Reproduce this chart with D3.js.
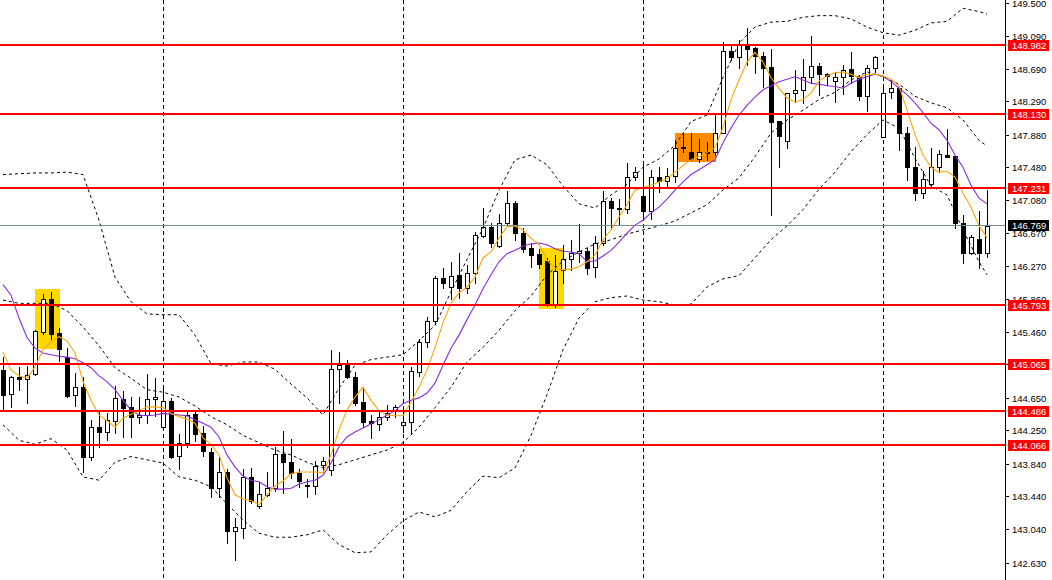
<!DOCTYPE html>
<html><head><meta charset="utf-8">
<script src="https://cdn.jsdelivr.net/npm/d3@7"></script>
<style>body{margin:0;background:#fff;} svg{display:block;}</style>
</head><body><svg id="c" width="1052" height="580"></svg>
<script>
// ---- DATA (prices) ----
const opens = [144.992,144.698,144.906,144.882,144.943,145.458,145.863,145.446,145.152,144.685,
144.783,143.925,144.293,144.231,144.366,144.636,144.538,144.415,144.440,144.636,
144.293,144.612,143.937,144.096,144.452,144.219,143.986,143.544,143.741,143.017,
143.053,143.679,143.323,143.458,143.544,143.961,143.863,143.728,143.569,143.569,
143.826,143.765,145.004,145.066,144.906,144.599,144.366,144.330,144.415,144.489,
144.317,144.354,144.968,145.336,145.593,146.121,146.011,146.158,145.998,146.182,
146.636,146.747,146.514,146.796,147.041,146.673,146.489,146.415,146.330,145.802,
146.219,146.354,146.428,146.452,146.256,146.550,147.066,146.980,146.968,147.360,
147.127,146.943,147.360,147.311,147.372,147.728,147.667,147.581,147.655,147.667,
147.900,148.906,148.833,148.992,148.943,148.845,148.710,148.047,147.802,148.391,
148.428,148.587,148.722,148.624,148.538,148.587,148.685,148.587,148.354,148.698,
147.851,148.403,148.452,147.900,147.483,147.164,147.274,147.483,147.630,147.618,
146.796,146.428,146.599,146.428];
const highs = [145.152,144.918,145.029,145.041,145.483,145.925,145.949,145.507,145.262,144.955,
144.906,144.379,144.501,144.464,144.796,144.734,144.661,144.661,144.943,144.894,
144.759,144.649,144.207,144.477,144.489,144.305,144.035,143.925,143.777,143.176,
143.777,143.790,143.618,143.741,144.047,144.244,144.145,143.777,143.655,143.876,
143.925,145.237,145.213,145.115,144.968,144.783,144.440,144.501,144.563,144.563,
144.477,145.029,145.372,145.642,146.145,146.244,146.317,146.428,146.280,146.685,
146.980,146.796,146.906,147.188,147.066,146.734,146.538,146.477,146.366,146.403,
146.526,146.587,146.784,146.489,146.636,147.188,147.103,147.090,147.532,147.483,
147.557,147.446,147.483,147.471,147.814,147.888,147.900,147.826,147.790,148.145,
149.017,148.980,149.041,149.188,148.955,148.894,148.931,148.047,148.391,148.673,
148.808,149.090,148.759,148.636,148.649,148.734,148.894,148.612,148.734,148.845,
148.489,148.550,148.477,147.974,147.728,147.434,147.716,147.691,147.949,147.618,
146.894,146.649,146.943,147.201];
const lows = [144.501,144.538,144.747,144.587,144.931,145.434,145.372,145.102,144.661,144.550,
143.741,143.888,144.047,144.133,144.219,144.170,144.170,144.342,144.342,144.428,
144.280,143.912,143.777,144.047,144.121,143.937,143.434,143.434,142.869,142.661,
142.931,143.360,143.299,143.446,143.507,143.483,143.667,143.557,143.434,143.471,
143.741,143.704,144.587,144.894,144.563,144.293,144.158,144.256,144.379,144.415,
144.231,144.207,144.918,145.274,145.557,145.998,145.863,145.876,145.937,146.060,
146.624,146.501,146.501,146.784,146.587,146.440,146.256,146.244,145.777,145.765,
146.060,146.219,146.317,146.170,146.133,146.526,146.722,146.771,146.918,147.323,
146.869,146.845,147.176,147.238,147.299,147.667,147.569,147.544,147.569,147.630,
147.900,148.796,148.698,148.734,148.636,148.465,146.894,147.483,147.716,148.280,
148.268,148.514,148.366,148.489,148.280,148.379,148.514,148.305,148.170,148.649,
147.851,148.330,147.691,147.323,147.078,147.103,147.225,147.422,147.606,146.734,
146.305,146.415,146.244,146.379];
const closes = [144.685,144.906,144.882,144.931,145.471,145.863,145.434,145.250,144.673,144.783,
143.925,144.293,144.231,144.379,144.649,144.526,144.415,144.440,144.636,144.661,
144.612,143.925,144.096,144.440,144.207,143.998,143.544,143.741,143.017,143.066,
143.679,143.385,143.471,143.544,143.961,143.863,143.728,143.630,143.581,143.814,
143.876,145.004,145.053,144.906,144.587,144.354,144.342,144.415,144.464,144.538,
144.354,144.980,145.336,145.593,146.121,146.060,146.145,145.998,146.182,146.649,
146.747,146.550,146.796,147.041,146.673,146.477,146.403,146.293,145.802,146.207,
146.354,146.428,146.452,146.244,146.550,147.066,146.980,146.968,147.360,147.422,
146.943,147.360,147.311,147.372,147.716,147.710,147.581,147.667,147.667,147.900,
148.906,148.833,148.980,148.931,148.845,148.698,148.035,147.863,148.391,148.428,
148.587,148.722,148.624,148.599,148.587,148.673,148.599,148.354,148.698,148.833,
148.391,148.452,147.900,147.483,147.164,147.336,147.483,147.642,147.606,146.796,
146.428,146.624,146.428,146.759];

// fast (orange) and slow (purple) moving averages, one value per candle
const fastMA = [145.21,144.99,144.92,144.89,145.03,145.24,145.34,145.40,145.35,145.20,
144.85,144.62,144.44,144.37,144.29,144.40,144.45,144.49,144.54,144.54,
144.53,144.46,144.42,144.39,144.34,144.16,144.08,143.95,143.67,143.46,
143.41,143.39,143.34,143.46,143.57,143.63,143.72,143.74,143.74,143.74,
143.73,143.95,144.26,144.50,144.66,144.78,144.62,144.49,144.44,144.43,
144.43,144.60,144.78,144.99,145.27,145.57,145.81,145.94,146.01,146.13,
146.37,146.44,146.61,146.75,146.76,146.71,146.61,146.53,146.34,146.24,
146.22,146.23,146.26,146.32,146.40,146.59,146.71,146.87,147.02,147.20,
147.23,147.26,147.30,147.34,147.42,147.50,147.57,147.61,147.66,147.72,
147.97,148.31,148.55,148.77,148.89,148.77,148.58,148.45,148.33,148.28,
148.31,148.39,148.54,148.60,148.64,148.65,148.62,148.58,148.62,148.62,
148.60,148.56,148.48,148.18,147.88,147.63,147.48,147.42,147.43,147.36,
147.16,146.99,146.76,146.62];
const slowMA = [146.04,145.91,145.63,145.39,145.26,145.20,145.18,145.16,145.15,145.13,
145.08,145.02,144.92,144.85,144.75,144.62,144.50,144.44,144.43,144.44,
144.46,144.45,144.44,144.43,144.38,144.34,144.29,144.17,143.95,143.80,
143.69,143.64,143.62,143.56,143.53,143.53,143.54,143.59,143.62,143.64,
143.70,143.85,144.05,144.17,144.23,144.28,144.33,144.38,144.44,144.49,
144.58,144.62,144.65,144.71,144.83,145.05,145.26,145.42,145.61,145.79,
145.99,146.16,146.32,146.42,146.46,146.51,146.54,146.55,146.53,146.48,
146.45,146.44,146.42,146.32,146.33,146.39,146.46,146.56,146.67,146.77,
146.83,146.92,146.99,147.09,147.20,147.30,147.39,147.45,147.51,147.57,
147.78,147.96,148.12,148.24,148.34,148.43,148.48,148.53,148.56,148.59,
148.55,148.51,148.50,148.48,148.47,148.45,148.51,148.56,148.59,148.62,
148.60,148.53,148.45,148.37,148.27,148.15,148.02,147.94,147.81,147.63,
147.48,147.26,147.10,147.03];

// Bollinger bands, read at candles 0,2,4,...,122 and 123
const bandUpper = [147.39,147.40,147.41,147.41,147.42,147.39,146.83,146.13,145.83,145.68,
145.67,145.67,145.42,145.07,145.04,145.09,145.09,145.00,144.82,144.65,
144.44,144.77,145.05,145.12,145.15,145.18,145.35,145.54,145.95,146.35,
146.73,147.20,147.57,147.63,147.51,147.25,147.03,146.98,147.14,147.27,
147.48,147.58,147.75,148.04,148.12,148.58,149.00,149.20,149.26,149.27,
149.32,149.34,149.34,149.30,149.20,149.13,149.10,149.16,149.25,149.27,
149.43,149.39,149.36];
const bandMiddle = [145.85,145.81,145.81,145.81,145.72,145.52,145.29,145.02,144.89,144.75,
144.72,144.66,144.55,144.42,144.32,144.19,144.10,144.01,143.95,143.86,
143.79,143.83,143.89,143.95,144.01,144.10,144.29,144.53,144.78,145.09,
145.27,145.48,145.72,145.90,146.16,146.33,146.44,146.54,146.59,146.66,
146.71,146.76,146.82,146.92,147.02,147.20,147.35,147.61,147.90,148.06,
148.18,148.31,148.40,148.55,148.65,148.59,148.50,148.35,148.27,148.21,
148.06,147.81,147.74];
const bandLower = [144.32,144.13,144.08,144.15,144.01,143.68,143.64,143.86,143.93,143.89,
143.85,143.68,143.64,143.56,143.35,143.15,142.99,142.94,142.94,142.97,
143.03,142.85,142.75,142.76,142.97,143.14,143.25,143.19,143.27,143.50,
143.69,143.67,143.79,144.19,144.69,145.24,145.63,145.83,145.88,145.90,
145.85,145.83,145.79,145.80,146.01,146.11,146.15,146.37,146.59,146.76,
146.96,147.21,147.42,147.67,147.88,148.06,147.96,147.59,147.25,147.14,
146.71,146.32,146.16];

const levels = [148.982, 148.130, 147.231, 145.793, 145.065, 144.486, 144.066];
const lastPrice = 146.769;
const tickValues = [149.500,149.090,148.690,148.290,147.880,147.480,147.080,146.670,146.270,
145.860,145.460,145.060,144.650,144.250,143.840,143.440,143.040,142.630];
const gridCandles = [20, 50, 80, 110];
const zoneStart = [4, 67, 84];
const zoneEnd = [7, 70, 89];
const zoneTop = [145.99, 146.49, 147.90];
const zoneBottom = [145.25, 145.74, 147.54];

// ---- DRAWING ----
const svg = d3.select('#c');
const plotRight = 1005;
const n = closes.length;
const x = d3.scaleLinear().domain([0, n - 1]).range([3, 3 + 8 * (n - 1)]);
const y = d3.scaleLinear().domain([142.63, 149.5]).range([562.5, 2.6]);
const zoneColors = ['#FFD700', '#FFD700', '#FF8C00'];

svg.append('rect').attr('width', 1052).attr('height', 580).attr('fill', '#fff');
svg.append('clipPath').attr('id', 'plot').append('rect')
  .attr('x', 0).attr('y', 0).attr('width', plotRight).attr('height', 580);
const g = svg.append('g').attr('clip-path', 'url(#plot)');

// zones
zoneStart.forEach((s, k) => {
  g.append('rect')
    .attr('x', Math.round(x(s)))
    .attr('y', Math.round(y(zoneTop[k])))
    .attr('width', Math.round(x(zoneEnd[k])) - Math.round(x(s)) + 1)
    .attr('height', Math.round(y(zoneBottom[k])) - Math.round(y(zoneTop[k])))
    .attr('fill', zoneColors[k]);
});

// vertical grid
gridCandles.forEach(c => {
  const gx = Math.round(x(c)) + 0.5;
  g.append('line').attr('x1', gx).attr('x2', gx).attr('y1', 0).attr('y2', 580)
    .attr('stroke', '#000').attr('stroke-width', 1).attr('stroke-dasharray', '4,3');
});

// candles
const idx = d3.range(n);
const cg = g.append('g').attr('shape-rendering', 'crispEdges');
idx.forEach(i => {
  const cx = Math.round(x(i));
  cg.append('line').attr('x1', cx + 0.5).attr('x2', cx + 0.5)
    .attr('y1', Math.round(y(highs[i]))).attr('y2', Math.round(y(lows[i])) + 1)
    .attr('stroke', '#000').attr('stroke-width', 1);
  const top = Math.round(y(Math.max(opens[i], closes[i])));
  const bot = Math.round(y(Math.min(opens[i], closes[i])));
  if (closes[i] >= opens[i]) {
    cg.append('rect').attr('x', cx - 2 + 0.5).attr('y', top + 0.5)
      .attr('width', 4).attr('height', Math.max(1, bot - top))
      .attr('fill', '#fff').attr('stroke', '#000').attr('stroke-width', 1);
  } else {
    cg.append('rect').attr('x', cx - 2).attr('y', top)
      .attr('width', 5).attr('height', Math.max(2, bot - top + 1))
      .attr('fill', '#000');
  }
});

// bands
const bandIdx = d3.range(0, n - 1, 2).concat([n - 1]);
[bandUpper, bandMiddle, bandLower].forEach(arr => {
  const line = d3.line().x((d, k) => x(bandIdx[k])).y(d => y(d));
  g.append('path').datum(arr).attr('d', line).attr('fill', 'none')
    .attr('stroke', '#000').attr('stroke-width', 1).attr('stroke-dasharray', '3,3');
});

// moving averages
const maLine = d3.line().x((d, i) => x(i)).y(d => y(d));
g.append('path').datum(slowMA).attr('d', maLine).attr('fill', 'none')
  .attr('stroke', '#8A2BE2').attr('stroke-width', 1.1);
g.append('path').datum(fastMA).attr('d', maLine).attr('fill', 'none')
  .attr('stroke', '#FFA500').attr('stroke-width', 1.1);

// price levels
const lg = g.append('g').attr('shape-rendering', 'crispEdges');
lg.append('line').attr('x1', 0).attr('x2', plotRight)
  .attr('y1', Math.round(y(lastPrice)) + 0.5).attr('y2', Math.round(y(lastPrice)) + 0.5)
  .attr('stroke', '#778899').attr('stroke-width', 1);
levels.forEach(v => {
  const ly = Math.round(y(v));
  lg.append('line').attr('x1', 0).attr('x2', plotRight).attr('y1', ly).attr('y2', ly)
    .attr('stroke', '#FF0000').attr('stroke-width', 2);
});

// axis
const ax = svg.append('g').attr('shape-rendering', 'crispEdges');
ax.append('line').attr('x1', plotRight + 0.5).attr('x2', plotRight + 0.5)
  .attr('y1', 0).attr('y2', 580).attr('stroke', '#000');
const font = '"Liberation Sans", Arial, sans-serif';
tickValues.forEach(v => {
  const ty = Math.round(y(v)) + 0.5;
  ax.append('line').attr('x1', plotRight).attr('x2', plotRight + 4)
    .attr('y1', ty).attr('y2', ty).attr('stroke', '#000');
  svg.append('text').attr('x', 1012).attr('y', ty).attr('dy', '0.35em')
    .attr('font-family', font).attr('font-size', 9.5).attr('fill', '#000')
    .text(d3.format('.3f')(v));
});
function tag(v, bg) {
  const ty = y(v);
  svg.append('rect').attr('x', 1008).attr('y', Math.round(ty) - 5).attr('width', 41).attr('height', 11)
    .attr('fill', bg).attr('shape-rendering', 'crispEdges');
  svg.append('text').attr('x', 1012).attr('y', Math.round(ty) + 0.5).attr('dy', '0.35em')
    .attr('font-family', font).attr('font-size', 9.5).attr('fill', '#fff')
    .text(d3.format('.3f')(v));
}
tag(lastPrice, '#000');
levels.forEach(v => tag(v, '#FF0000'));
</script>
</body></html>
